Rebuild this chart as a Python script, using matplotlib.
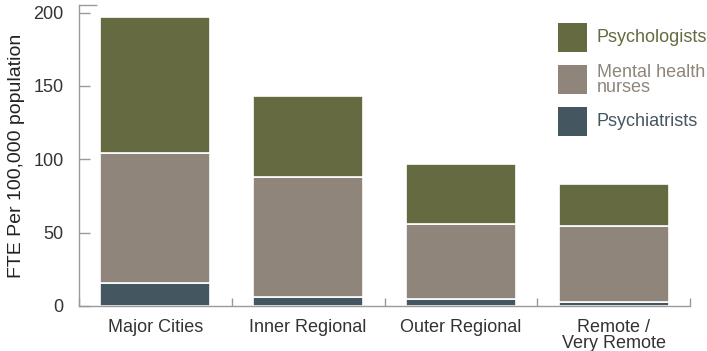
import matplotlib
matplotlib.use('Agg')
import matplotlib.pyplot as plt
from matplotlib.patches import Rectangle

plt.rcParams['font.family'] = ['Liberation Sans', 'DejaVu Sans']

# Дані (FTE на 100 000 населення)
regions = ['Major Cities', 'Inner Regional', 'Outer Regional', 'Remote /\nVery Remote']
psychiatrists = [15.7, 6.1, 4.8, 2.7]
nurses = [88.7, 81.9, 51.1, 51.9]
psychologists = [92.6, 55.2, 41.0, 28.6]
legend_labels = ['Psychologists', 'Mental health\nnurses', 'Psychiatrists']

c_psychiatrists = '#44565f'
c_nurses = '#8f857a'
c_psychologists = '#656a40'

W, H = 707, 351
fig = plt.figure(figsize=(W / 100, H / 100), dpi=100)
ax = fig.add_axes([79 / W, 1 - 306 / H, 611 / W, 300.7 / H])

x = list(range(len(regions)))
bottom2 = [a + b for a, b in zip(psychiatrists, nurses)]
ax.bar(x, psychiatrists, width=0.72, color=c_psychiatrists, edgecolor='white', linewidth=1.2)
ax.bar(x, nurses, width=0.72, bottom=psychiatrists, color=c_nurses, edgecolor='white', linewidth=1.2)
ax.bar(x, psychologists, width=0.72, bottom=bottom2, color=c_psychologists, edgecolor='white', linewidth=1.2)

ax.set_xlim(-0.5, 3.5)
ax.set_ylim(0, 205)

# осі
for side in ['top', 'right']:
    ax.spines[side].set_visible(False)
for side in ['left', 'bottom']:
    ax.spines[side].set_color('#9a9a9a')
    ax.spines[side].set_linewidth(1.0)

ax.set_yticks([0, 50, 100, 150, 200])
ax.set_yticks([205], minor=True)
ax.tick_params(axis='y', which='major', direction='in', length=8, width=1.0,
               color='#9a9a9a', labelsize=13, labelcolor='#333333', pad=11)
ax.tick_params(axis='y', which='minor', direction='in', length=13, width=1.0, color='#9a9a9a')

ax.set_xticks([-0.5, 0.5, 1.5, 2.5, 3.5])
ax.set_xticklabels([])
ax.set_xticks(x, minor=True)
ax.set_xticklabels(regions, minor=True, linespacing=0.9)
ax.tick_params(axis='x', which='major', direction='in', length=6, width=1.0, color='#9a9a9a')
ax.tick_params(axis='x', which='minor', length=0, labelsize=13, labelcolor='#333333', pad=9.5)

ax.set_ylabel('FTE Per 100,000 population', fontsize=14, color='#222222', labelpad=6)

# легенда вручну
legend_colors = [c_psychologists, c_nurses, c_psychiatrists]
box_tops = [23, 65, 107]
for lab, col, top in zip(legend_labels, legend_colors, box_tops):
    fig.patches.append(Rectangle((558 / W, 1 - (top + 29) / H), 29 / W, 29 / H,
                                 transform=fig.transFigure, facecolor=col, edgecolor='none'))
    fig.text(597 / W, 1 - (top + 15) / H, lab, fontsize=13, color=col,
             ha='left', va='center', linespacing=0.85)

fig.savefig('out.png', dpi=100)
